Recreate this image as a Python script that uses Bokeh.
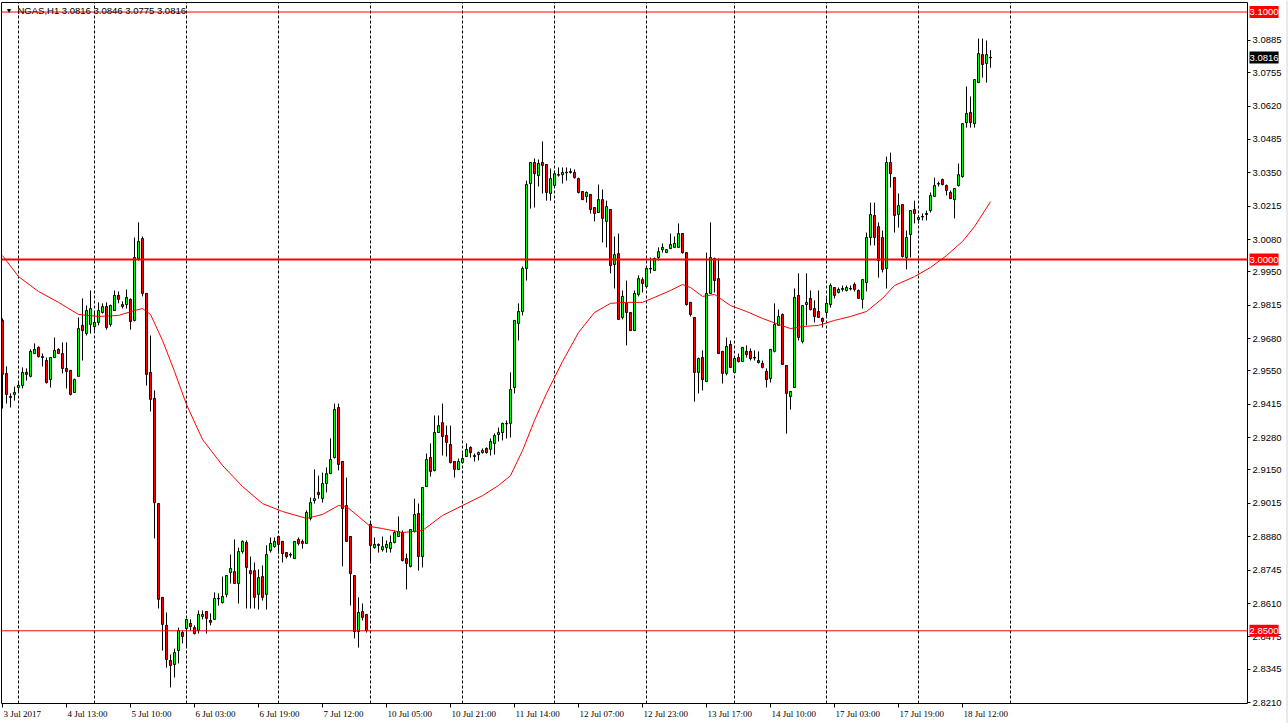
from bokeh.plotting import figure
from bokeh.models import (Range1d, LinearAxis, FixedTicker, NumeralTickFormatter,
                          Label, LabelSet, ColumnDataSource)
from bokeh.embed import file_html
from bokeh.resources import INLINE

symbol = "NGAS,H1"

opens = [2.9754, 2.9540, 2.9447, 2.9455, 2.9483, 2.9491, 2.9544, 2.9528, 2.9620, 2.9645,
         2.9608, 2.9592, 2.9515, 2.9604, 2.9637, 2.9620, 2.9560, 2.9552, 2.9463, 2.9528,
         2.9734, 2.9701, 2.9738, 2.9729, 2.9746, 2.9786, 2.9810, 2.9738, 2.9794, 2.9855,
         2.9818, 2.9818, 2.9839, 2.9754, 3.0004, 3.0085, 2.9863, 2.9544, 2.9439, 2.9014,
         2.8635, 2.8522, 2.8380, 2.8364, 2.8420, 2.8493, 2.8509, 2.8530, 2.8513, 2.8501,
         2.8558, 2.8578, 2.8542, 2.8546, 2.8631, 2.8614, 2.8647, 2.8735, 2.8739, 2.8691,
         2.8820, 2.8857, 2.8743, 2.8743, 2.8647, 2.8719, 2.8647, 2.8824, 2.8840, 2.8881,
         2.8861, 2.8816, 2.8808, 2.8792, 2.8869, 2.8861, 2.8853, 2.8954, 2.9026, 2.9059,
         2.9034, 2.9095, 2.9135, 2.9200, 2.9402, 2.9184, 2.9006, 2.8881, 2.8723, 2.8497,
         2.8578, 2.8566, 2.8930, 2.8836, 2.8849, 2.8828, 2.8836, 2.8832, 2.8857, 2.8881,
         2.8897, 2.8792, 2.8760, 2.8901, 2.8974, 2.8800, 2.9083, 2.9200, 2.9148, 2.9301,
         2.9341, 2.9289, 2.9253, 2.9184, 2.9152, 2.9180, 2.9204, 2.9241, 2.9208, 2.9212,
         2.9220, 2.9237, 2.9233, 2.9257, 2.9293, 2.9301, 2.9338, 2.9338, 2.9483, 2.9742,
         2.9790, 2.9964, 3.0307, 3.0392, 3.0339, 3.0392, 3.0384, 3.0267, 3.0299, 3.0343,
         3.0343, 3.0352, 3.0356, 3.0352, 3.0327, 3.0275, 3.0255, 3.0263, 3.0210, 3.0190,
         3.0242, 3.0154, 3.0202, 2.9980, 3.0024, 2.9766, 2.9823, 2.9786, 2.9713, 2.9859,
         2.9919, 2.9891, 2.9964, 2.9956, 3.0008, 3.0040, 3.0028, 3.0044, 3.0049, 3.0049,
         3.0105, 3.0028, 2.9827, 2.9766, 2.9544, 2.9604, 2.9507, 2.9863, 3.0004, 2.9923,
         2.9629, 2.9540, 2.9657, 2.9544, 2.9604, 2.9588, 2.9629, 2.9629, 2.9604, 2.9592,
         2.9580, 2.9548, 2.9519, 2.9629, 2.9734, 2.9778, 2.9572, 2.9447, 2.9483, 2.9855,
         2.9669, 2.9818, 2.9843, 2.9802, 2.9790, 2.9762, 2.9786, 2.9818, 2.9887, 2.9867,
         2.9879, 2.9875, 2.9883, 2.9899, 2.9875, 2.9839, 2.9907, 3.0089, 3.0178, 3.0133,
         3.0089, 2.9964, 3.0392, 3.0331, 3.0182, 3.0222, 3.0008, 3.0101, 3.0202, 3.0162,
         3.0174, 3.0182, 3.0198, 3.0255, 3.0307, 3.0323, 3.0299, 3.0271, 3.0242, 3.0299,
         3.0335, 3.0553, 3.0594, 3.0549, 3.0715, 3.0828, 3.0792, 3.0816]

highs = [2.9762, 2.9568, 2.9459, 2.9487, 2.9507, 2.9564, 2.9560, 2.9637, 2.9661, 2.9649,
         2.9620, 2.9604, 2.9604, 2.9685, 2.9641, 2.9665, 2.9665, 2.9552, 2.9519, 2.9766,
         2.9843, 2.9814, 2.9875, 2.9786, 2.9827, 2.9823, 2.9827, 2.9818, 2.9875, 2.9871,
         2.9831, 2.9879, 2.9843, 3.0089, 3.0150, 3.0093, 2.9863, 2.9693, 2.9471, 2.9014,
         2.8635, 2.8574, 2.8404, 2.8428, 2.8513, 2.8501, 2.8546, 2.8546, 2.8522, 2.8582,
         2.8582, 2.8578, 2.8570, 2.8655, 2.8651, 2.8719, 2.8723, 2.8808, 2.8869, 2.8836,
         2.8865, 2.8865, 2.8800, 2.8776, 2.8748, 2.8764, 2.8845, 2.8877, 2.8877, 2.8881,
         2.8861, 2.8816, 2.8816, 2.8861, 2.8877, 2.8869, 2.8986, 2.9038, 2.9152, 2.9127,
         2.9139, 2.9160, 2.9277, 2.9418, 2.9418, 2.9184, 2.9119, 2.8881, 2.8723, 2.8635,
         2.8610, 2.8566, 2.8938, 2.8877, 2.8853, 2.8881, 2.8865, 2.8885, 2.8905, 2.8962,
         2.8905, 2.8812, 2.8909, 2.9034, 2.9014, 2.9079, 2.9216, 2.9257, 2.9370, 2.9370,
         2.9418, 2.9329, 2.9329, 2.9184, 2.9196, 2.9216, 2.9257, 2.9245, 2.9216, 2.9224,
         2.9237, 2.9241, 2.9277, 2.9297, 2.9321, 2.9341, 2.9350, 2.9544, 2.9754, 2.9823,
         2.9972, 3.0319, 3.0392, 3.0408, 3.0404, 3.0477, 3.0384, 3.0368, 3.0352, 3.0372,
         3.0372, 3.0372, 3.0368, 3.0364, 3.0331, 3.0275, 3.0275, 3.0263, 3.0210, 3.0303,
         3.0283, 3.0238, 3.0202, 3.0093, 3.0105, 2.9875, 2.9915, 2.9786, 2.9875, 2.9936,
         2.9928, 2.9968, 3.0008, 3.0008, 3.0049, 3.0065, 3.0040, 3.0105, 3.0093, 3.0146,
         3.0105, 3.0028, 2.9827, 2.9766, 2.9604, 2.9633, 3.0028, 3.0150, 3.0008, 3.0004,
         2.9629, 2.9685, 2.9673, 2.9604, 2.9620, 2.9645, 2.9653, 2.9641, 2.9633, 2.9629,
         2.9592, 2.9560, 2.9637, 2.9823, 2.9798, 2.9782, 2.9572, 2.9467, 2.9883, 2.9944,
         2.9814, 2.9944, 2.9875, 2.9835, 2.9875, 2.9766, 2.9843, 2.9903, 2.9887, 2.9887,
         2.9895, 2.9895, 2.9895, 2.9907, 2.9879, 2.9919, 3.0109, 3.0230, 3.0230, 3.0150,
         3.0117, 3.0416, 3.0432, 3.0331, 3.0267, 3.0222, 3.0117, 3.0198, 3.0238, 3.0178,
         3.0186, 3.0198, 3.0271, 3.0331, 3.0315, 3.0327, 3.0303, 3.0279, 3.0287, 3.0388,
         3.0549, 3.0699, 3.0659, 3.0727, 3.0893, 3.0893, 3.0885, 3.0846]

lows = [2.9398, 2.9418, 2.9402, 2.9430, 2.9463, 2.9479, 2.9511, 2.9524, 2.9620, 2.9604,
        2.9568, 2.9499, 2.9483, 2.9604, 2.9620, 2.9540, 2.9479, 2.9451, 2.9463, 2.9528,
        2.9592, 2.9693, 2.9701, 2.9713, 2.9734, 2.9782, 2.9717, 2.9729, 2.9794, 2.9823,
        2.9802, 2.9802, 2.9717, 2.9750, 2.9996, 2.9851, 2.9491, 2.9386, 2.8873, 2.8590,
        2.8420, 2.8351, 2.8271, 2.8311, 2.8368, 2.8449, 2.8432, 2.8501, 2.8485, 2.8489,
        2.8546, 2.8489, 2.8522, 2.8546, 2.8602, 2.8610, 2.8635, 2.8691, 2.8691, 2.8610,
        2.8812, 2.8590, 2.8590, 2.8590, 2.8586, 2.8622, 2.8586, 2.8816, 2.8836, 2.8812,
        2.8776, 2.8792, 2.8796, 2.8792, 2.8845, 2.8832, 2.8853, 2.8946, 2.9014, 2.9034,
        2.9018, 2.9059, 2.9135, 2.9196, 2.9148, 2.8760, 2.8861, 2.8602, 2.8469, 2.8432,
        2.8542, 2.8493, 2.8772, 2.8832, 2.8816, 2.8820, 2.8816, 2.8816, 2.8853, 2.8881,
        2.8780, 2.8667, 2.8756, 2.8897, 2.8743, 2.8756, 2.9083, 2.9123, 2.9144, 2.9301,
        2.9208, 2.9204, 2.9176, 2.9119, 2.9152, 2.9176, 2.9204, 2.9200, 2.9184, 2.9188,
        2.9216, 2.9216, 2.9208, 2.9212, 2.9265, 2.9269, 2.9277, 2.9281, 2.9459, 2.9673,
        2.9774, 2.9915, 3.0206, 3.0210, 3.0295, 3.0267, 3.0238, 3.0238, 3.0299, 3.0335,
        3.0307, 3.0319, 3.0347, 3.0327, 3.0267, 3.0242, 3.0230, 3.0186, 3.0154, 3.0190,
        3.0069, 3.0049, 2.9944, 2.9883, 2.9758, 2.9758, 2.9653, 2.9713, 2.9713, 2.9851,
        2.9867, 2.9887, 2.9944, 2.9956, 2.9996, 3.0028, 3.0028, 3.0044, 3.0049, 3.0049,
        3.0024, 2.9814, 2.9770, 2.9426, 2.9459, 2.9471, 2.9507, 2.9863, 2.9867, 2.9620,
        2.9499, 2.9532, 2.9564, 2.9544, 2.9584, 2.9588, 2.9604, 2.9592, 2.9592, 2.9580,
        2.9560, 2.9483, 2.9503, 2.9625, 2.9734, 2.9576, 2.9297, 2.9394, 2.9483, 2.9673,
        2.9661, 2.9734, 2.9794, 2.9746, 2.9766, 2.9725, 2.9770, 2.9806, 2.9843, 2.9863,
        2.9871, 2.9871, 2.9875, 2.9871, 2.9843, 2.9802, 2.9871, 3.0057, 3.0057, 2.9927,
        2.9948, 2.9883, 3.0291, 3.0109, 3.0129, 3.0008, 2.9960, 3.0008, 3.0146, 3.0146,
        3.0158, 3.0158, 3.0190, 3.0255, 3.0295, 3.0299, 3.0259, 3.0246, 3.0166, 3.0295,
        3.0331, 3.0533, 3.0533, 3.0533, 3.0715, 3.0735, 3.0715, 3.0775]

closes = [2.9536, 2.9455, 2.9443, 2.9463, 2.9491, 2.9544, 2.9536, 2.9629, 2.9637, 2.9608,
          2.9604, 2.9503, 2.9604, 2.9633, 2.9620, 2.9560, 2.9548, 2.9455, 2.9515, 2.9721,
          2.9713, 2.9794, 2.9802, 2.9746, 2.9794, 2.9810, 2.9725, 2.9814, 2.9855, 2.9839,
          2.9810, 2.9847, 2.9750, 3.0008, 3.0073, 2.9863, 2.9536, 2.9435, 2.9018, 2.8627,
          2.8526, 2.8384, 2.8360, 2.8412, 2.8501, 2.8477, 2.8546, 2.8517, 2.8489, 2.8566,
          2.8566, 2.8550, 2.8534, 2.8631, 2.8629, 2.8639, 2.8723, 2.8752, 2.8691, 2.8820,
          2.8861, 2.8756, 2.8731, 2.8635, 2.8715, 2.8635, 2.8808, 2.8853, 2.8861, 2.8849,
          2.8812, 2.8800, 2.8806, 2.8861, 2.8853, 2.8853, 2.8978, 2.9018, 2.9034, 2.9050,
          2.9095, 2.9135, 2.9192, 2.9394, 2.9172, 2.8994, 2.8861, 2.8731, 2.8497, 2.8574,
          2.8554, 2.8501, 2.8845, 2.8849, 2.8845, 2.8840, 2.8849, 2.8857, 2.8897, 2.8901,
          2.8784, 2.8772, 2.8909, 2.8970, 2.8800, 2.9079, 2.9192, 2.9144, 2.9301, 2.9329,
          2.9285, 2.9261, 2.9180, 2.9152, 2.9184, 2.9196, 2.9233, 2.9220, 2.9204, 2.9220,
          2.9228, 2.9220, 2.9265, 2.9289, 2.9301, 2.9338, 2.9336, 2.9475, 2.9754, 2.9790,
          2.9964, 3.0303, 3.0392, 3.0347, 3.0388, 3.0380, 3.0271, 3.0327, 3.0347, 3.0341,
          3.0352, 3.0350, 3.0352, 3.0331, 3.0271, 3.0242, 3.0271, 3.0202, 3.0186, 3.0242,
          3.0166, 3.0214, 2.9976, 3.0020, 2.9758, 2.9851, 2.9786, 2.9713, 2.9863, 2.9923,
          2.9903, 2.9964, 2.9962, 3.0004, 3.0032, 3.0049, 3.0040, 3.0061, 3.0065, 3.0105,
          3.0028, 2.9818, 2.9778, 2.9544, 2.9600, 2.9515, 2.9863, 3.0008, 2.9915, 2.9620,
          2.9540, 2.9649, 2.9564, 2.9600, 2.9588, 2.9645, 2.9616, 2.9600, 2.9602, 2.9584,
          2.9564, 2.9515, 2.9637, 2.9738, 2.9770, 2.9576, 2.9459, 2.9467, 2.9847, 2.9685,
          2.9814, 2.9827, 2.9798, 2.9770, 2.9766, 2.9750, 2.9823, 2.9895, 2.9855, 2.9879,
          2.9883, 2.9887, 2.9881, 2.9879, 2.9843, 2.9919, 3.0089, 3.0182, 3.0089, 2.9996,
          2.9960, 3.0392, 3.0347, 3.0178, 3.0218, 3.0012, 3.0089, 3.0198, 3.0186, 3.0170,
          3.0172, 3.0186, 3.0259, 3.0299, 3.0305, 3.0303, 3.0279, 3.0246, 3.0287, 3.0343,
          3.0549, 3.0590, 3.0553, 3.0727, 3.0832, 3.0788, 3.0828, 3.0816]

ma_bars = [0, 4, 9, 14, 19, 24, 29, 33, 35, 37, 40, 43, 46, 50, 55, 60, 65, 70, 76, 80,
           84, 86, 89, 92, 95, 100, 105, 110, 115, 120, 124, 127, 130, 133, 136, 140, 144,
           148, 152, 156, 160, 163, 167, 170, 172, 175, 178, 182, 186, 190, 194, 197, 200,
           204, 208, 212, 216, 220, 223, 228, 232, 236, 240, 243, 247]
ma_values = [3.0016, 2.9931, 2.9871, 2.9827, 2.9778, 2.9770, 2.9774, 2.9794, 2.9802, 2.9778,
             2.9673, 2.9548, 2.9414, 2.9273, 2.9168, 2.9083, 2.9014, 2.8982, 2.8954, 2.8970,
             2.9006, 2.9002, 2.8962, 2.8921, 2.8913, 2.8897, 2.8905, 2.8966, 2.9006, 2.9046,
             2.9087, 2.9127, 2.9228, 2.9350, 2.9459, 2.9588, 2.9705, 2.9786, 2.9823, 2.9827,
             2.9827, 2.9847, 2.9875, 2.9899, 2.9887, 2.9851, 2.9859, 2.9814, 2.9790, 2.9762,
             2.9738, 2.9721, 2.9729, 2.9734, 2.9754, 2.9770, 2.9790, 2.9843, 2.9895, 2.9931,
             2.9968, 3.0016, 3.0073, 3.0133, 3.0234]

x_tick_bars = [0, 16, 32, 48, 64, 80, 96, 112, 128, 144, 160, 176, 192, 208, 224, 240]
x_tick_labels = ["3 Jul 2017", "4 Jul 13:00", "5 Jul 10:00", "6 Jul 03:00", "6 Jul 19:00",
                 "7 Jul 12:00", "10 Jul 05:00", "10 Jul 21:00", "11 Jul 14:00", "12 Jul 07:00",
                 "12 Jul 23:00", "13 Jul 17:00", "14 Jul 10:00", "17 Jul 03:00", "17 Jul 19:00",
                 "18 Jul 12:00"]
grid_bars = [4, 23, 46, 69, 92, 115, 138, 161, 183, 206, 229, 252]
y_ticks = [3.0885, 3.0755, 3.0620, 3.0485, 3.0350, 3.0215, 3.0080, 2.9950, 2.9815, 2.9680,
           2.9550, 2.9415, 2.9280, 2.9150, 2.9015, 2.8880, 2.8745, 2.8610, 2.8475, 2.8345,
           2.8210]
level_lines = [3.1000, 3.0000, 2.8500]
level_widths = [1, 2, 1]

# ---- layout (pixel geometry of the terminal window) ----
W, H = 1288, 723
PX_PER_BAR, BAR0_PX = 4.0, 2.0          # bar i is drawn at x = 2 + 4*i
PX_PER_PRICE, PRICE_AT_TOP = 2475.0, 3.10466
LEFT_PX, RIGHT_PX, TOP_PX, BOTTOM_PX = 1, 1247, 2, 703


def bx(px):
    return (px - BAR0_PX) / PX_PER_BAR


def py(px):
    return PRICE_AT_TOP - px / PX_PER_PRICE


X_START, X_END = bx(LEFT_PX), bx(RIGHT_PX)
Y_TOP, Y_BOTTOM = py(TOP_PX), py(BOTTOM_PX)
FONT = "Liberation Sans"

p = figure(width=W, height=H, output_backend="svg", toolbar_location=None,
           x_range=Range1d(bx(0), bx(W)), y_range=Range1d(py(H), py(0)),
           x_axis_location=None, y_axis_location=None,
           min_border=0, min_border_left=0, min_border_right=0,
           min_border_top=0, min_border_bottom=0,
           background_fill_color="white", border_fill_color="white")
p.outline_line_color = None
p.xgrid.visible = False
p.ygrid.visible = False

# price axis on the right edge of the chart area
yaxis = LinearAxis(ticker=FixedTicker(ticks=y_ticks), fixed_location=X_END,
                   bounds=(Y_BOTTOM, Y_TOP),
                   formatter=NumeralTickFormatter(format="0.0000"),
                   major_tick_out=3, major_tick_in=0, minor_tick_out=0, minor_tick_in=0,
                   major_label_standoff=2, axis_line_color="black", axis_line_width=1,
                   major_label_text_font=FONT, major_label_text_font_size="9.5px",
                   major_label_text_color="black")
p.add_layout(yaxis, "right")

# time axis on the bottom edge of the chart area
xaxis = LinearAxis(ticker=FixedTicker(ticks=x_tick_bars), fixed_location=Y_BOTTOM,
                   bounds=(X_START, X_END),
                   major_label_overrides={b: "" for b in x_tick_bars},
                   major_tick_out=4, major_tick_in=0, minor_tick_out=0, minor_tick_in=0,
                   major_label_standoff=0, axis_line_color="black",
                   major_label_text_font_size="1px")
p.add_layout(xaxis, "below")

xsrc = ColumnDataSource(dict(x=x_tick_bars, text=x_tick_labels))
p.add_layout(LabelSet(x="x", y=Y_BOTTOM, text="text", source=xsrc, x_offset=1, y_offset=-5,
                      text_align="left", text_baseline="top", text_font=FONT,
                      text_font_size="9px", text_color="black"))

# chart border (left, top) and window edge
p.segment(x0=[X_START, X_START], y0=[Y_BOTTOM, Y_TOP], x1=[X_START, X_END], y1=[Y_TOP, Y_TOP],
          line_color="black", line_width=1)
p.segment(x0=[bx(W - 1.5)], y0=[py(0)], x1=[bx(W - 1.5)], y1=[py(H)],
          line_color="#d4d4d4", line_width=1)

# day separators
p.segment(x0=grid_bars, y0=[Y_BOTTOM] * len(grid_bars), x1=grid_bars, y1=[Y_TOP] * len(grid_bars),
          line_color="black", line_dash="3 2", line_width=1)

# candles
n = len(closes)
idx = list(range(n))
tops, bots, cols = [], [], []
for o, c in zip(opens, closes):
    t, b = max(o, c), min(o, c)
    if t - b < 0.0003:
        m = (t + b) / 2
        t, b = m + 0.00012, m - 0.00012
    tops.append(t)
    bots.append(b)
    cols.append("#00ff00" if c >= o else "#ff0000")
src = ColumnDataSource(dict(x=idx, high=highs, low=lows, top=tops, bottom=bots, color=cols))
p.segment(x0="x", y0="low", x1="x", y1="high", source=src, line_color="black", line_width=1)
p.vbar(x="x", width=0.5, top="top", bottom="bottom", source=src,
       fill_color="color", line_color="black", line_width=1)

# moving average
p.line(ma_bars, ma_values, line_color="#ff0000", line_width=1)

# horizontal levels
for lvl, w in zip(level_lines, level_widths):
    p.segment(x0=[X_START], y0=[lvl], x1=[X_END], y1=[lvl], line_color="#ff0000", line_width=w)

# price boxes on the axis
for lvl in level_lines:
    p.add_layout(Label(x=X_END, y=lvl, x_offset=2, text=f"{lvl:.4f}", text_font=FONT,
                       text_font_size="9.5px", text_color="white", text_align="left",
                       text_baseline="middle", background_fill_color="#ff0000",
                       background_fill_alpha=1.0, padding=(0, 3)))
p.add_layout(Label(x=X_END, y=closes[-1], x_offset=2, text=f"{closes[-1]:.4f}", text_font=FONT,
                   text_font_size="9.5px", text_color="white", text_align="left",
                   text_baseline="middle", background_fill_color="black",
                   background_fill_alpha=1.0, padding=(0, 3)))

# title
p.add_layout(Label(x=X_START, y=Y_TOP, x_offset=4, y_offset=-8, text="\u25bc", text_font=FONT,
                   text_font_size="7px", text_color="black", text_baseline="middle"))
title = f"{symbol}  {opens[-1]:.4f} {highs[-1]:.4f} {lows[-1]:.4f} {closes[-1]:.4f}"
p.add_layout(Label(x=X_START, y=Y_TOP, x_offset=16, y_offset=-8, text=title, text_font=FONT,
                   text_font_size="9.5px", text_color="black", text_baseline="middle"))

open("out.html", "w").write(file_html(p, INLINE))
